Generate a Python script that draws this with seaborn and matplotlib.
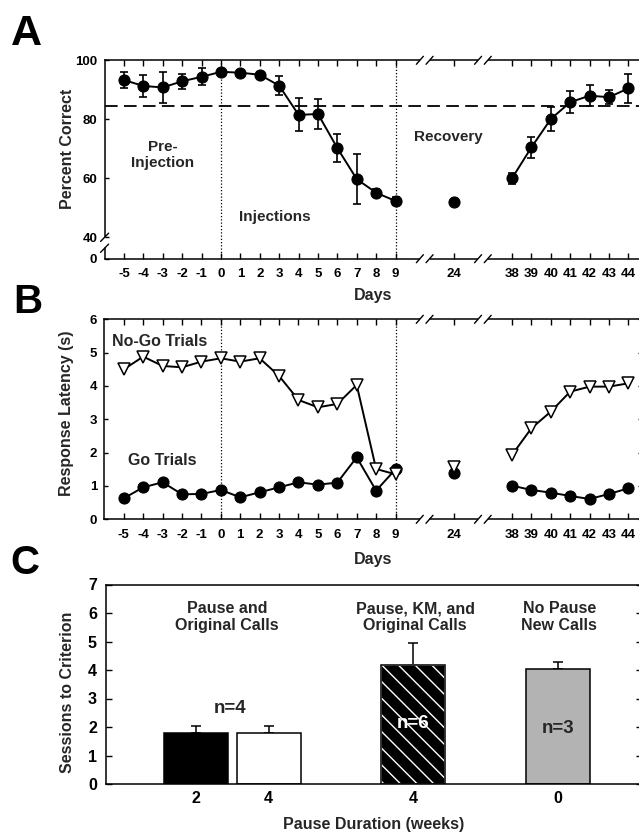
import numpy as np
import pandas as pd
import matplotlib
matplotlib.use("Agg")
import matplotlib.pyplot as plt
from matplotlib.patches import Rectangle
import seaborn as sns

sns.set_theme(style="ticks")
plt.rcParams["font.family"] = ["Liberation Sans", "DejaVu Sans"]
plt.rcParams["font.weight"] = "bold"
plt.rcParams["axes.labelweight"] = "bold"
plt.rcParams["hatch.linewidth"] = 1.0

# ---------------- data ----------------
days = [-5, -4, -3, -2, -1, 0, 1, 2, 3, 4, 5, 6, 7, 8, 9, 24, 38, 39, 40, 41, 42, 43, 44]
pct_correct = [93.3, 91.3, 90.8, 92.9, 94.4, 96.1, 95.8, 95.1, 91.4, 81.5, 81.8,
               70.2, 59.7, 55.1, 52.3, 52.1, 60.0, 70.5, 80.1, 85.8, 88.0, 87.5, 90.5]
pct_sem = [2.7, 3.6, 5.4, 2.5, 2.9, 1.0, 1.0, 0.8, 3.3, 5.6, 5.2,
           4.7, 8.5, 1.2, 1.5, 0.0, 1.9, 3.5, 4.2, 3.8, 3.5, 2.4, 4.9]
criterion = 84.5
nogo_latency = [4.50, 4.88, 4.60, 4.56, 4.73, 4.83, 4.73, 4.83, 4.30, 3.58, 3.36,
                3.46, 4.03, 1.51, 1.35, 1.58, 1.93, 2.73, 3.23, 3.83, 3.98, 3.98, 4.08]
go_latency = [0.63, 0.96, 1.11, 0.75, 0.76, 0.88, 0.66, 0.81, 0.96, 1.11, 1.04,
              1.10, 1.86, 0.86, 1.50, 1.40, 1.01, 0.88, 0.80, 0.70, 0.61, 0.76, 0.93]
day_blocks = [(-5, 9), (24, 24), (38, 44)]   # contiguous day ranges (axis broken between)
injection_start, injection_end = 0, 9

pause_weeks = ["2", "4", "4", "0"]
sessions = [1.80, 1.80, 4.17, 4.03]
sessions_sem = [0.25, 0.25, 0.76, 0.25]
group_titles = ["Pause and\nOriginal Calls", "Pause, KM, and\nOriginal Calls", "No Pause\nNew Calls"]
group_n = ["n=4", "n=6", "n=3"]

# ---------------- broken day axis ----------------
GAP = 3
block_start = []
s = 0
for lo, hi in day_blocks:
    block_start.append(s)
    s += (hi - lo) + GAP


def day_pos(d):
    for i, (lo, hi) in enumerate(day_blocks):
        if lo <= d <= hi:
            return block_start[i] + (d - lo)
    raise ValueError(d)


def day_block(d):
    for i, (lo, hi) in enumerate(day_blocks):
        if lo <= d <= hi:
            return i


breaks = [(day_pos(day_blocks[i][1]) + day_pos(day_blocks[i + 1][0])) / 2
          for i in range(len(day_blocks) - 1)]

df = pd.DataFrame({"day": days, "pct": pct_correct, "sem": pct_sem,
                   "nogo": nogo_latency, "go": go_latency})
df["pos"] = df["day"].map(day_pos)
df["block"] = df["day"].map(day_block)

W, H = 639, 836
fig = plt.figure(figsize=(W / 100, H / 100), dpi=100)


def add_ax(left, top, right, bottom):
    return fig.add_axes([left / W, 1 - bottom / H, (right - left) / W, (bottom - top) / H])


axA = add_ax(104.6, 60.3, 642, 258.7)
axB = add_ax(104.4, 319.3, 642, 519.3)
axC = add_ax(106, 584.5, 642, 784)

XL = (-1.0, 26.7)
SP_LW = 1.1
TICK_FS = 9.5


def style_day_axis(ax):
    ax.set_xlim(*XL)
    ax.set_xticks(df["pos"])
    ax.set_xticklabels([str(d) for d in days])
    for sp in ax.spines.values():
        sp.set_linewidth(SP_LW)
        sp.set_color("black")
    ax.spines["right"].set_visible(False)
    ax.tick_params(axis="x", direction="in", top=True, bottom=True, length=4,
                   width=1, labelsize=TICK_FS, pad=7.0, colors="black")
    ax.tick_params(axis="y", direction="in", left=True, right=False, length=3,
                   width=1, labelsize=TICK_FS, pad=5.3, colors="black")
    # breaks on top / bottom spines
    d = 0.25
    tr = ax.get_xaxis_transform()
    for b in breaks:
        for yy in (0, 1):
            ax.plot([b - d, b + d], [yy, yy], color="white", lw=3, transform=tr,
                    clip_on=False, zorder=5, solid_capstyle="butt")
            for c in (b - d, b + d):
                ax.plot([c - 0.18, c + 0.18], [yy - 0.02, yy + 0.02], color="black",
                        lw=1, transform=tr, clip_on=False, zorder=6)
    ax.axvline(day_pos(injection_start), color="black", lw=0.9, ls=(0, (1, 1.6)), zorder=1)
    ax.axvline(day_pos(injection_end), color="black", lw=0.9, ls=(0, (1, 1.6)), zorder=1)


# ---------------- Panel A ----------------
ax = axA
ybot = 32.75
ax.errorbar(df["pos"], df["pct"], yerr=df["sem"], fmt="none", ecolor="black",
            elinewidth=1.2, capsize=3.2, capthick=1.2, zorder=2)
sns.lineplot(data=df, x="pos", y="pct", units="block", estimator=None, sort=False,
             color="black", lw=1.4, marker="o", markersize=8,
             markeredgecolor="black", markerfacecolor="black", ax=ax, zorder=3)
ax.axhline(criterion, color="black", lw=1.3, ls=(0, (7, 3.5)), zorder=1)
ax.set_ylim(ybot, 100)
ax.set_yticks([ybot, 40, 60, 80, 100])
ax.set_yticklabels(["0", "40", "60", "80", "100"])
style_day_axis(ax)
ax.spines["left"].set_bounds(40, 100)
ytr = ax.get_yaxis_transform()
ax.plot([0, 0], [ybot, 36.3], color="black", lw=SP_LW, transform=ytr, clip_on=False, zorder=6)
for yy in (40, 36.3):
    ax.plot([-0.0075, 0.0075], [yy - 1.4, yy + 1.4], color="black", lw=1,
            transform=ytr, clip_on=False, zorder=6)
ax.set_xlabel("Days", fontsize=11.5)
ax.set_ylabel("Percent Correct", fontsize=11.5)
ax.xaxis.set_label_coords(0.5, -0.150)
ax.yaxis.set_label_coords(-0.055, 0.554)
ax.text(day_pos(-3), 67.9, "Pre-\nInjection", ha="center", va="center", fontsize=11, linespacing=1.1)
ax.text(7.78, 47, "Injections", ha="center", va="center", fontsize=11)
ax.text(16.7, 74.1, "Recovery", ha="center", va="center", fontsize=11)

# ---------------- Panel B ----------------
ax = axB
sns.lineplot(data=df, x="pos", y="go", units="block", estimator=None, sort=False,
             color="black", lw=1.4, marker="o", markersize=8,
             markeredgecolor="black", markerfacecolor="black", ax=ax, zorder=3)
sns.lineplot(data=df, x="pos", y="nogo", units="block", estimator=None, sort=False,
             color="black", lw=1.4, marker="v", markersize=9, markeredgewidth=1.1,
             markeredgecolor="black", markerfacecolor="white", ax=ax, zorder=4)
ax.set_ylim(0, 6)
ax.set_yticks(range(0, 7))
style_day_axis(ax)
ax.tick_params(axis="y", right=True, length=3)
for t in ax.yaxis.get_major_ticks():
    t.tick2line.set_color("#c8c8c8")
ax.set_xlabel("Days", fontsize=11.5)
ax.set_ylabel("Response Latency (s)", fontsize=11.5)
ax.xaxis.set_label_coords(0.5, -0.1645)
ax.yaxis.set_label_coords(-0.056, 0.53)
ax.text(1.86, 5.33, "No-Go Trials", ha="center", va="center", fontsize=11.5)
ax.text(2.0, 1.76, "Go Trials", ha="center", va="center", fontsize=11.5)

# ---------------- Panel C ----------------
ax = axC
slots = ["b1", "b2", "b3", "b4"]
order = ["b1", "b2", "gap1", "b3", "gap2", "b4"]
bar_colors = {"b1": "black", "b2": "white", "b3": "black", "b4": "#b3b3b3"}
dfc = pd.DataFrame({"slot": slots, "sessions": sessions, "sem": sessions_sem,
                    "weeks": pause_weeks})
sns.barplot(data=dfc, x="slot", y="sessions", order=order, hue="slot",
            hue_order=slots, palette=bar_colors, width=0.885, edgecolor="black",
            linewidth=1.1, legend=False, ax=ax, zorder=2)
patches = sorted([p for p in ax.patches if p.get_height() > 0], key=lambda p: p.get_x())
centers = [p.get_x() + p.get_width() / 2 for p in patches]
ax.errorbar(centers, sessions, yerr=[np.zeros(len(sessions)), sessions_sem], fmt="none",
            ecolor="black", elinewidth=1.1, capsize=3.5, capthick=1.1, zorder=1)
hp = patches[2]
hp.set_hatch("\\\\")
hp.set_edgecolor("white")
ax.add_patch(Rectangle(hp.get_xy(), hp.get_width(), hp.get_height(), fill=False,
                       edgecolor="black", lw=1.1, zorder=3))
ax.set_xlim(-1.248, 6.166)
ax.set_ylim(0, 7)
ax.set_yticks(range(0, 8))
tick_pos = [order.index(s_) for s_ in slots]
ax.set_xticks(tick_pos)
ax.set_xticklabels(pause_weeks)
for sp in ax.spines.values():
    sp.set_linewidth(SP_LW)
    sp.set_color("black")
ax.spines["right"].set_visible(False)
ax.tick_params(axis="x", length=0, labelsize=11.5, pad=5, colors="black")
ax.tick_params(axis="y", direction="in", left=True, right=True, length=4, width=1,
               labelsize=11.5, pad=6.5, colors="black")
ax.set_xlabel("Pause Duration (weeks)", fontsize=11.5)
ax.set_ylabel("Sessions to Criterion", fontsize=11.5)
ax.xaxis.set_label_coords(0.5, -0.165)
ax.yaxis.set_label_coords(-0.058, 0.461)
title_x = [0.43, 3.03, 5.02]
for tx, t in zip(title_x, group_titles):
    ax.text(tx, 5.86, t, ha="center", va="center", fontsize=11.5, linespacing=1.15)
ax.text(0.47, 2.65, group_n[0], ha="center", va="center", fontsize=13.5)
ax.text(centers[2], 2.12, group_n[1], ha="center", va="center", fontsize=13.5, color="white", zorder=5)
ax.text(centers[3], 1.95, group_n[2], ha="center", va="center", fontsize=13.5, zorder=5)

# ---------------- panel letters ----------------
for letter, x, yb, fs in (("A", 26, 45, 31), ("B", 27.5, 313.3, 29), ("C", 25, 574.5, 29)):
    fig.text(x / W, 1 - yb / H, letter, ha="center", va="baseline", fontsize=fs,
             fontweight="bold", color="black")

fig.savefig("out.png", dpi=100)
